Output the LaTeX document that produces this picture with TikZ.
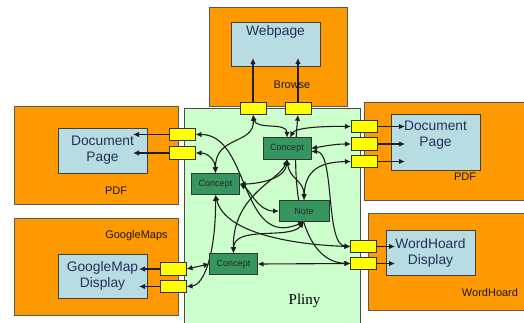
\documentclass[tikz,border=0pt]{standalone}
\usepackage{fontspec}
\setmainfont{Liberation Sans}
\newfontfamily\plinyfont{Liberation Serif}
\usetikzlibrary{arrows.meta}
\definecolor{AppOrange}{HTML}{FF9900}
\definecolor{PanelBlue}{HTML}{B7DDE3}
\definecolor{PlinyGreen}{HTML}{CCFFCC}
\definecolor{ConceptGreen}{HTML}{359660}
\definecolor{PortYellow}{HTML}{FFFF00}
\definecolor{Navy}{HTML}{25305A}
\definecolor{EdgeInk}{HTML}{1E1E1E}
\pgfdeclarelayer{bg}
\pgfdeclarelayer{fg}
\pgfsetlayers{bg,main,fg}
\tikzset{
  appbox/.style={rectangle, draw=black!65, fill=AppOrange, line width=0.9pt,
                 inner sep=0pt, outer sep=0pt},
  plinybox/.style={rectangle, draw=black!70, fill=PlinyGreen, line width=1pt,
                 inner sep=0pt, outer sep=0pt},
  panel/.style={rectangle, draw=black!75, fill=PanelBlue, line width=1pt,
                 minimum width=89pt, inner sep=0pt, outer sep=0pt,
                 font=\fontsize{13.8}{16}\selectfont, text=Navy, align=center},
  paneltext/.style={inner sep=0pt, font=\fontsize{13.8}{16}\selectfont,
                 text=Navy, align=center},
  applabel/.style={inner sep=0pt, font=\fontsize{11}{13}\selectfont, text=black!90},
  conceptbox/.style={rectangle, draw=black!80, fill=ConceptGreen, line width=1pt,
                 minimum width=48pt, minimum height=21.5pt, inner sep=0pt,
                 outer sep=0pt, font=\fontsize{9}{10}\selectfont, text=black!85},
  port/.style={rectangle, draw=black!80, fill=PortYellow, line width=1pt,
                 minimum width=26pt, minimum height=12.5pt, inner sep=0pt, outer sep=0pt},
}
\begin{document}
\begin{tikzpicture}[x=1pt, y=-1pt,
    >={Latex[length=6pt,width=5.5pt]},
    link/.style={<->, line width=1.1pt, draw=EdgeInk},
    feed/.style={->, line width=1.1pt, draw=EdgeInk}]
  \useasboundingbox (0,0) rectangle (524,322);

  \begin{pgfonlayer}{bg}
    % applications round Pliny
    \node[appbox, minimum width=138pt, minimum height=99pt] (browse) at (278,56.5) {};
    \node[appbox, minimum width=164pt, minimum height=98pt] (pdfL) at (96,155) {};
    \node[appbox, minimum width=164pt, minimum height=97pt] (gmaps) at (96,266.5) {};
    \node[appbox, minimum width=166pt, minimum height=98pt] (pdfR) at (447,151) {};
    \node[appbox, minimum width=162pt, minimum height=97pt] (whoard) at (449,261.5) {};
    \node[plinybox, minimum width=176pt, minimum height=222pt] (pliny) at (272,219) {};

    \node[panel, minimum height=44pt] (web) at (275.5,44) {};
    \node[paneltext] (webtxt) at (275.5,32) {Webpage};
    \node[panel, minimum height=45pt] (docL) at (102.5,150.5) {Document\\Page};
    \node[panel, minimum height=44pt] (gmdisp) at (102.5,276) {GoogleMap\\Display};
    \node[panel, minimum height=56pt] (docR) at (435.5,142) {};
    \node[paneltext] (docRtxt) at (435.5,135) {Document\\Page};
    \node[panel, minimum height=45pt] (whdisp) at (430.5,252.5) {WordHoard\\Display};

    \node[applabel] (browsetxt) at (292,85) {Browse};
    \node[applabel] (pdfLtxt) at (116,191) {PDF};
    \node[applabel] (pdfRtxt) at (465,177) {PDF};
    \node[applabel] (gmtxt) at (136.5,236) {GoogleMaps};
    \node[applabel] (whtxt) at (490,293) {WordHoard};
    \node[inner sep=0pt, font=\plinyfont\fontsize{15}{17}\selectfont] (plinytxt)
      at (304.5,301) {Pliny};
  \end{pgfonlayer}

  \begin{pgfonlayer}{fg}
    % ports
    \node[port] (bp1) at (253,108.5) {};
    \node[port] (bp2) at (298,108.5) {};
    \node[port] (lp1) at (182.5,134.5) {};
    \node[port] (lp2) at (182.5,153) {};
    \node[port] (rp1) at (364,126.5) {};
    \node[port] (rp2) at (364,144) {};
    \node[port] (rp3) at (364,161.5) {};
    \node[port] (wp1) at (363.5,246.5) {};
    \node[port] (wp2) at (363.5,263.5) {};
    \node[port] (gp1) at (173.5,269) {};
    \node[port] (gp2) at (173.5,286.5) {};
    % notes and concepts
    \node[conceptbox] (conA) at (287,148.5) {Concept};
    \node[conceptbox] (conB) at (215.5,184) {Concept};
    \node[conceptbox, minimum width=50pt] (note) at (304,211) {Note};
    \node[conceptbox] (conC) at (233.5,264) {Concept};
  \end{pgfonlayer}

  % ends of the outgoing arrows
  \coordinate (webin) at (275,58);
  \coordinate (docLin) at (133,150);
  \coordinate (docRin) at (405,142);
  \coordinate (whin) at (395,252);
  \coordinate (gmin) at (139,276);

  \draw[feed] (bp1.north) -- (bp1.north |- webin);
  \draw[feed] (bp2.north) -- (bp2.north |- webin);
  \draw[feed] (lp1.west) -- (lp1.west -| docLin);
  \draw[feed] (lp2.west) -- (lp2.west -| docLin);
  \draw[feed] (rp1.east) -- (rp1.east -| docRin);
  \draw[feed] (rp2.east) -- (rp2.east -| docRin);
  \draw[feed] (rp3.east) -- (rp3.east -| docRin);
  \draw[feed] (wp1.east) -- (wp1.east -| whin);
  \draw[feed] (wp2.east) -- (wp2.east -| whin);
  \draw[feed] (gp1.west) -- (gp1.west -| gmin);
  \draw[feed] (gp2.west) -- (gp2.west -| gmin);

  % links inside Pliny
  \draw[link] (bp1.south) .. controls (256,130) and (287,122) .. (conA.north);
  \draw[link] (bp1.south) .. controls (255,145) and (215,135) .. (conB.north);
  \draw[link] (lp2.east) .. controls (208,153) and (215,160) .. (conB.north);
  \draw[link] (lp1.east) .. controls (250,134) and (240,250) .. (note.south);
  \draw[link] ([xshift=3pt]conA.north) .. controls (295,128) and (320,126) .. (rp1.west);
  \draw[link] (conA.east) .. controls (325,146) and (335,144) .. (rp2.west);
  \draw[link] ([yshift=-3pt]conA.east) .. controls (335,151) and (325,245) .. (wp1.west);
  \draw[link] (note.north) .. controls (305,170) and (320,162) .. (rp3.west);
  \draw[link] (bp2.south) .. controls (290,200) and (305,262) .. (wp2.west);
  \draw[link] (conA.south) .. controls (285,180) and (255,184) .. (conB.east);
  \draw[link] (conB.east) .. controls (250,190) and (258,211) .. (note.west);
  \draw[link] (conA.south) .. controls (280,180) and (232,195) .. (conC.north);
  \draw[link] (conC.north) .. controls (234,225) and (290,240) .. (note.south);
  \draw[link] (conA.south) .. controls (290,180) and (304,180) .. (note.north);
  \draw[link] (conB.south) .. controls (225,235) and (300,245) .. (wp1.west);
  \draw[link] (conB.south) .. controls (216,250) and (205,285) .. (gp2.east);
  \draw[link] (gp1.east) -- (conC.west);
  \draw[link] (conC.east) -- (wp2.west);
\end{tikzpicture}
\end{document}
